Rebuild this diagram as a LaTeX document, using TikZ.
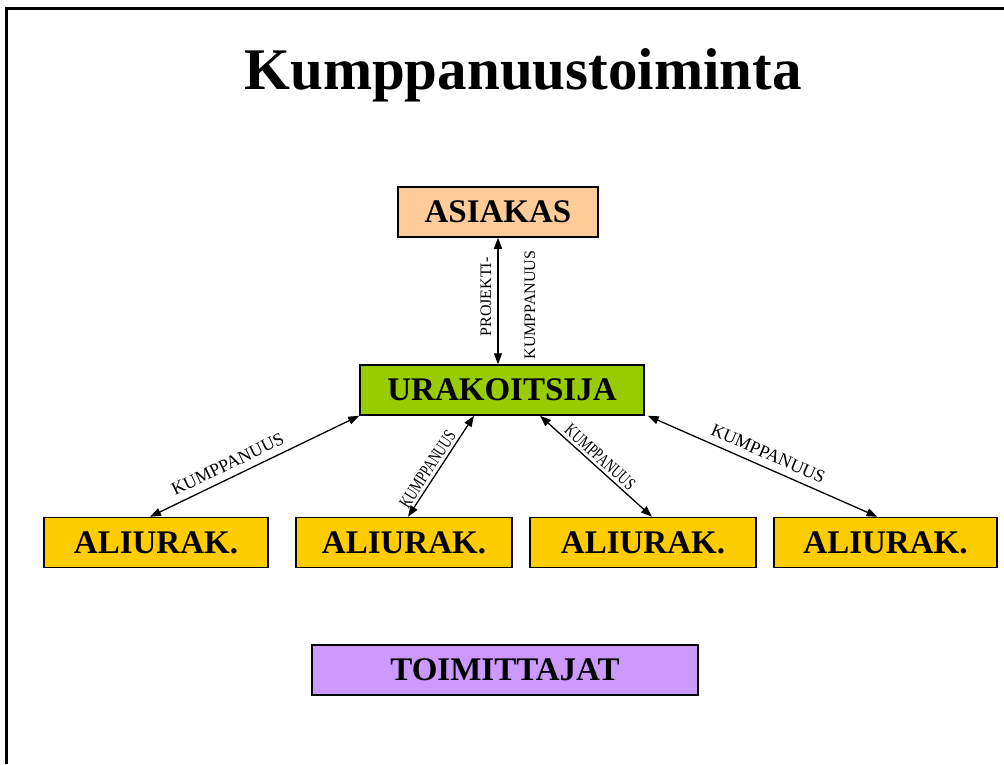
\documentclass[tikz,border=0pt]{standalone}
\usepackage{fontspec}
\setmainfont{Liberation Serif}
\usetikzlibrary{arrows.meta}
\definecolor{peach}{HTML}{FFCC99}
\definecolor{lime}{HTML}{99CC00}
\definecolor{gold}{HTML}{FFCC00}
\definecolor{lilac}{HTML}{CC99FF}
\tikzset{
  box/.style={draw=black, line width=1.5pt, minimum height=50pt, inner sep=0pt,
    font=\fontsize{33}{36}\selectfont\bfseries},
  link/.style={line width=1.3pt, {Triangle[length=11pt,width=8pt]}-{Triangle[length=11pt,width=8pt]}},
  lbl/.style={font=\fontsize{18}{19}\selectfont, inner sep=1pt},
  vlbl/.style={font=\fontsize{16}{17}\selectfont, inner sep=1pt, rotate=90}
}
\begin{document}
\begin{tikzpicture}[x=1pt,y=-1pt]
\useasboundingbox (0,0) rectangle (1004,764);
\draw[line width=3pt] (6,764) -- (6,8) -- (1004,8);
\node (title) at (523,75) {\fontsize{59}{62}\selectfont\bfseries Kumppanuustoiminta};
\node[box, fill=peach, minimum width=200pt] (A) at (498,212) {ASIAKAS};
\node[box, fill=lime, minimum width=284pt] (U) at (502,390) {URAKOITSIJA};
\node[box, fill=gold, minimum width=224pt] (S1) at (156,542.5) {ALIURAK.};
\node[box, fill=gold, minimum width=216pt] (S2) at (404,542.5) {ALIURAK.};
\node[box, fill=gold, minimum width=226pt] (S3) at (643,542.5) {ALIURAK.};
\node[box, fill=gold, minimum width=223pt] (S4) at (885.5,542.5) {ALIURAK.};
\node[box, fill=lilac, minimum width=386pt] (T) at (505,670) {TOIMITTAJAT};
\coordinate (Utop) at (A.south |- U.north);
\draw[link] (A.south) -- (Utop);
\node[vlbl] (pl) at (486,297) {PROJEKTI-};
\node[vlbl] (kl) at (530,305) {KUMPPANUUS};
\draw[link] ([xshift=-6pt]S1.north) -- (U.south west)
  node[lbl, pos=0.4, sloped, above=6pt] (l1) {KUMPPANUUS};
\draw[link] ([xshift=4pt]S2.north) -- ([xshift=-28pt]U.south)
  node[lbl, pos=0.42, sloped, above=2pt] (l2) {\scalebox{0.72}[1]{KUMPPANUUS}};
\draw[link] ([xshift=38pt]U.south) -- ([xshift=9pt]S3.north)
  node[lbl, pos=0.48, sloped, above=2pt] (l3) {\scalebox{0.72}[1]{KUMPPANUUS}};
\draw[link] ([xshift=3pt]U.south east) -- ([xshift=-8pt]S4.north)
  node[lbl, midway, sloped, above=6pt] (l4) {KUMPPANUUS};
\end{tikzpicture}
\end{document}
